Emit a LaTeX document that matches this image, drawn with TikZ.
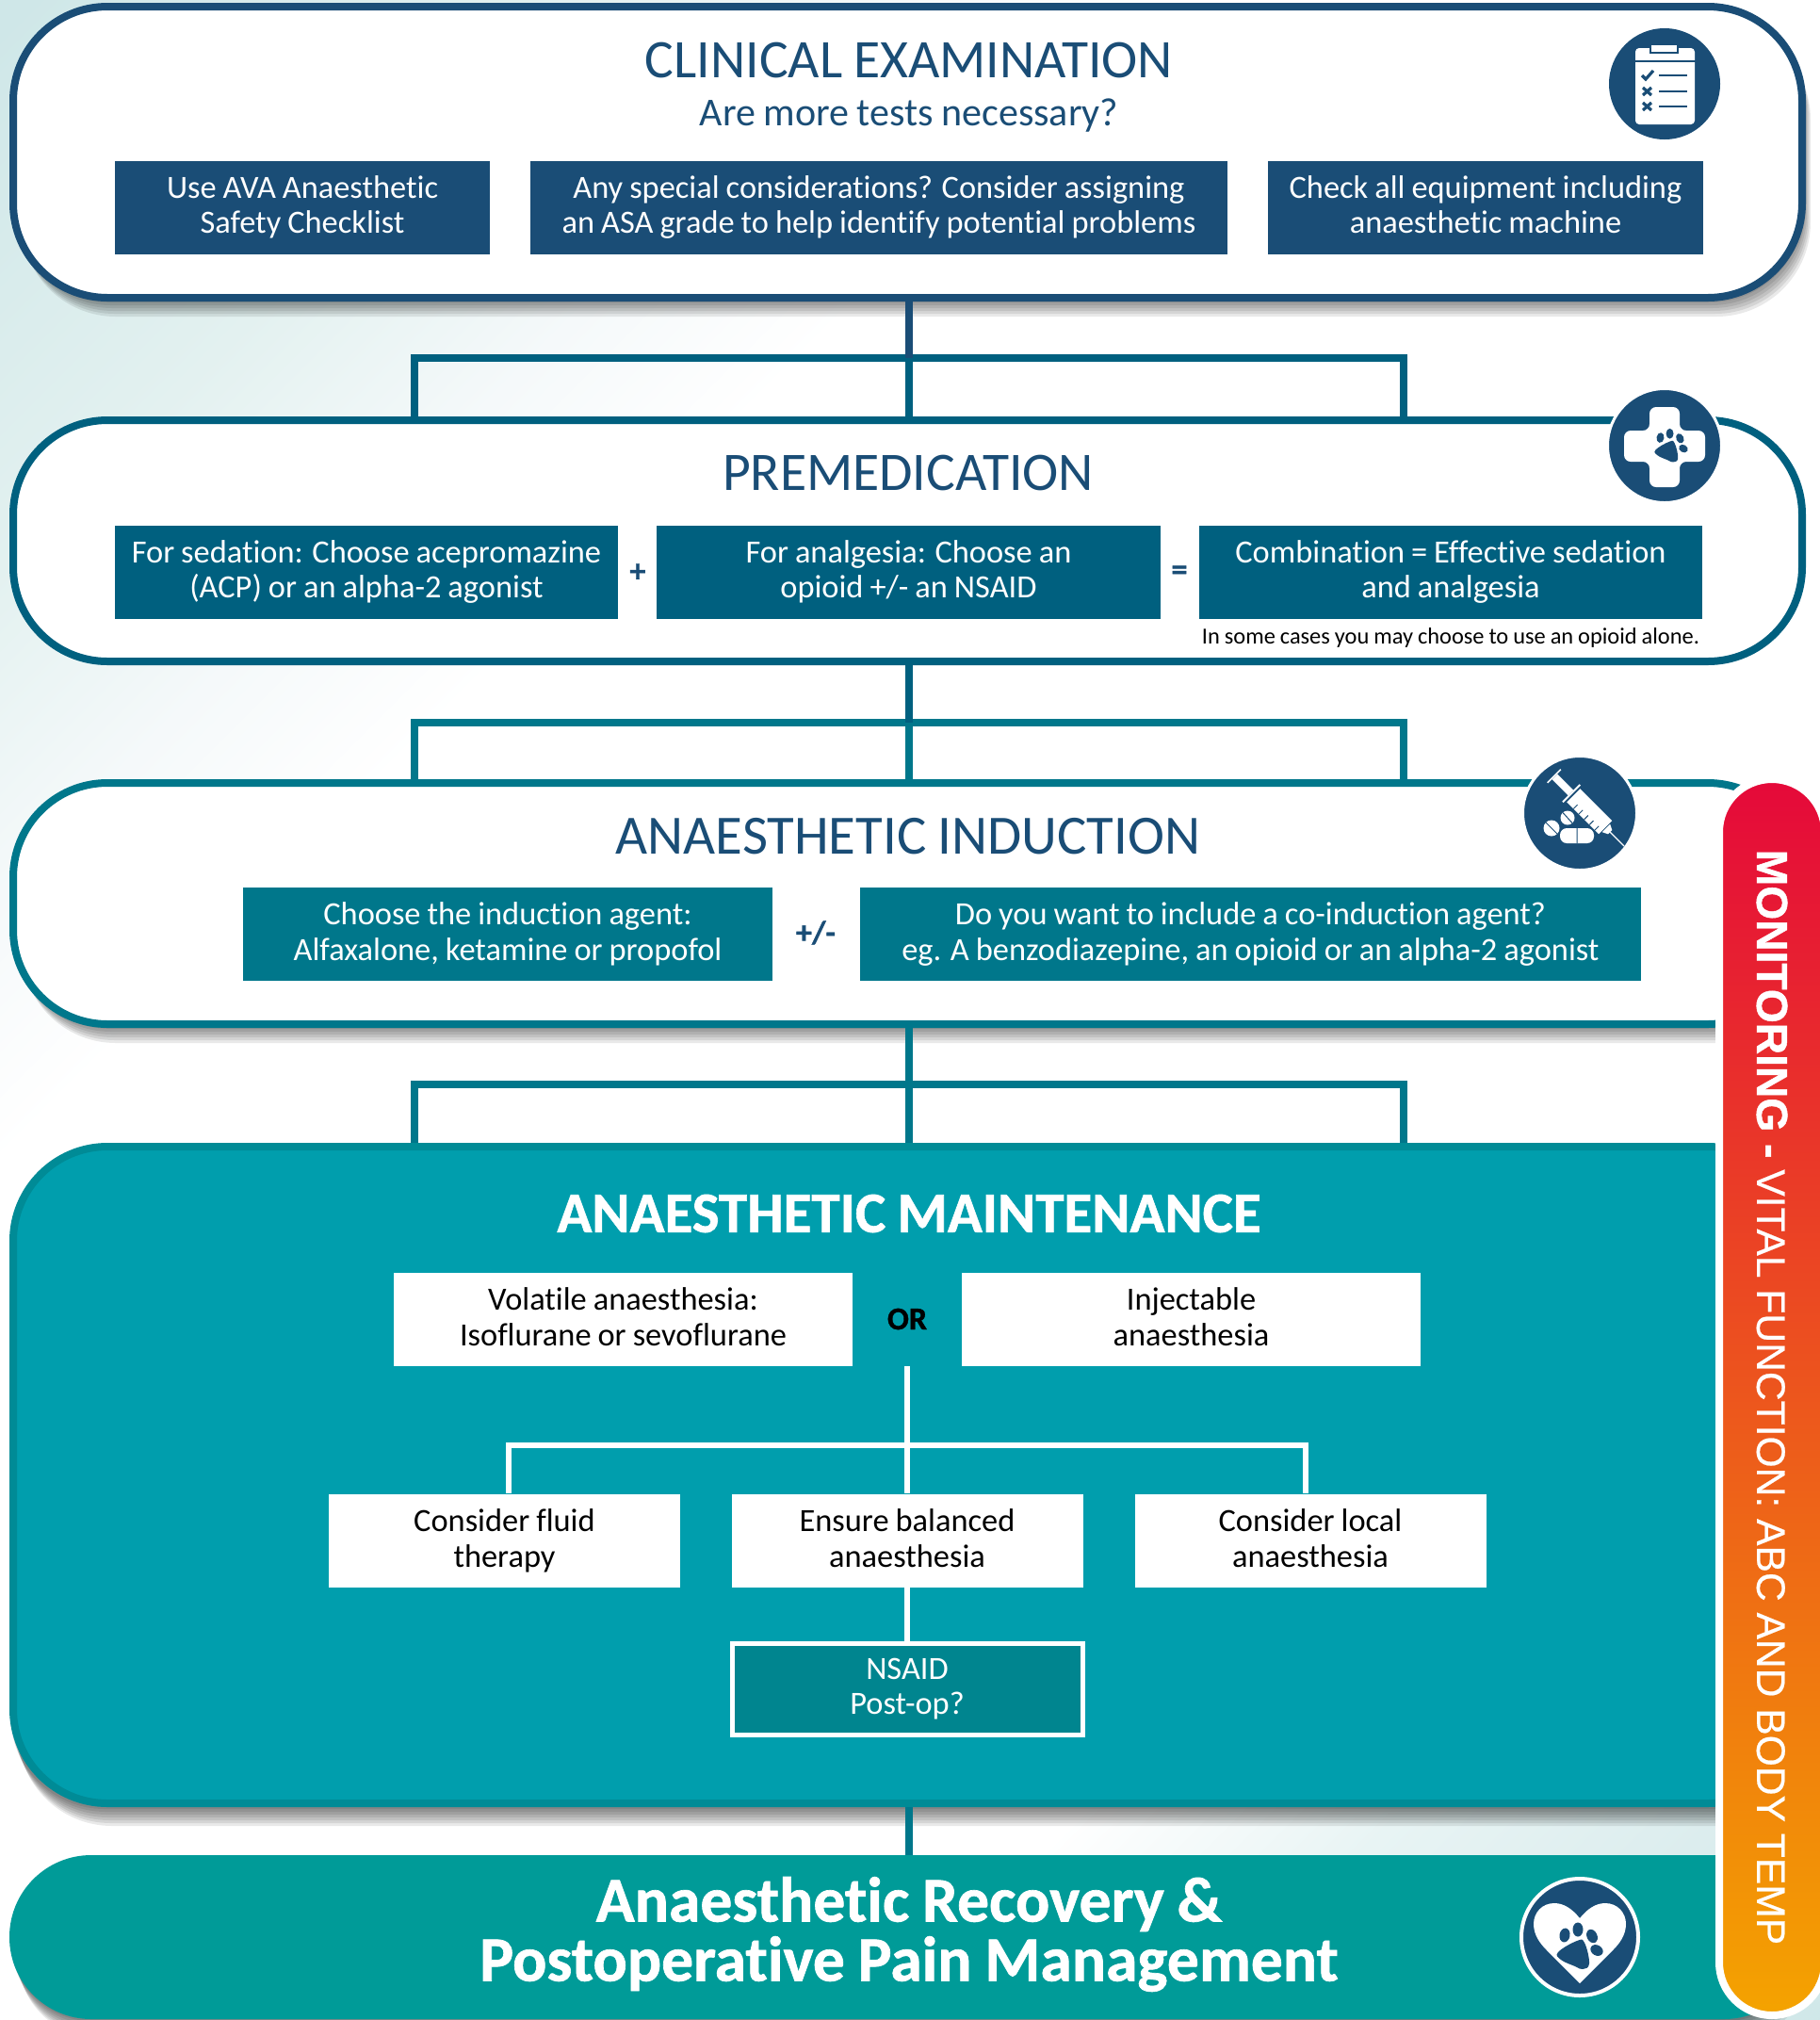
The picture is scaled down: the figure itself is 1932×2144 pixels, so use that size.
\documentclass[tikz,border=0pt]{standalone}
\usepackage{fontspec}
\setmainfont{Carlito}[Ligatures=NoCommon,WordSpace=0.9,BoldFeatures={FakeBold=1}]
\newfontfamily\barfont{Liberation Sans}[FakeBold=0.5,BoldFeatures={FakeBold=1}]
\usepackage{tikz}
\usetikzlibrary{positioning,calc,shapes.geometric}

\definecolor{navy}{HTML}{1A4D76}
\definecolor{petrol}{HTML}{00607F}
\definecolor{sea}{HTML}{00778B}
\definecolor{tealfill}{HTML}{009EAD}
\definecolor{tealedge}{HTML}{008B96}
\definecolor{recov}{HTML}{009B98}
\definecolor{nsaidfill}{HTML}{00858F}
\definecolor{bgA}{HTML}{CFE7E8}
\definecolor{bgB}{HTML}{E3F1F0}
\definecolor{bgC}{HTML}{F5F9FA}
\definecolor{bgD}{HTML}{E8F4F4}
\definecolor{bgE}{HTML}{DCEDEE}
\definecolor{barA}{HTML}{E5093A}
\definecolor{barB}{HTML}{EB6A2A}
\definecolor{barC}{HTML}{F4A300}

\pgfdeclarehorizontalshading{bgdiag}{100bp}{color(0bp)=(bgA); color(15bp)=(bgA); color(25bp)=(bgB);
  color(31bp)=(bgC); color(36bp)=(white); color(68bp)=(white); color(74bp)=(bgD); color(80bp)=(bgE);
  color(86bp)=(bgA); color(100bp)=(bgA)}

\newcommand{\cardshadow}[5]{%
  \foreach \d in {2,5,...,20}
    \fill[black,opacity=.085,rounded corners=#5]
      ({#1+\d*.45},{#2+\d}) rectangle ({#3+\d*.45},{#4+\d});
}

\tikzset{
  card/.style={draw=#1,line width=4pt,fill=white,rounded corners=50pt,minimum width=949.5pt,inner sep=0pt},
  stepbox/.style={fill=#1,text=white,align=center,inner sep=0pt,minimum height=49.5pt,
    font=\fontsize{17.2}{18.6}\selectfont,
    execute at begin node={\rule{0pt}{15.6pt}},execute at end node={\rule[-3pt]{0pt}{3pt}}},
  whitebox/.style={fill=white,text=black,align=center,inner sep=0pt,minimum height=49.5pt,
    font=\fontsize{17.2}{19}\selectfont,
    execute at begin node={\rule{0pt}{16pt}},execute at end node={\rule[-2.2pt]{0pt}{2.2pt}}},
  title/.style={text=navy,inner sep=0pt,font=\fontsize{28.8}{32}\selectfont},
  sign/.style={text=navy,inner sep=0pt,font=\fontsize{17}{18}\bfseries\selectfont},
  link/.style={line width=4pt,draw=#1},
  whitelink/.style={line width=3pt,draw=white},
  badge/.style={circle,fill=navy,draw=white,line width=1.5pt,minimum size=60.5pt,inner sep=0pt},
  paw/.pic={
    \path[pic actions] plot[smooth cycle,tension=.7] coordinates {(-23,16) (-3,4) (5,6) (10,28) (3,34) (-5,31) (-20,24)};
    \path[pic actions] (-16,-2) ellipse [x radius=5.5,y radius=7.5,rotate=-10];
    \path[pic actions] (-2,-8) ellipse [x radius=5.5,y radius=7.5];
    \path[pic actions] (13,-1) ellipse [x radius=5.5,y radius=7.5,rotate=25];
    \path[pic actions] (18,14) ellipse [x radius=5.5,y radius=7,rotate=60];
  }
}

\begin{document}
\begin{tikzpicture}[x=.5pt,y=-.5pt]
    \useasboundingbox (0,0) rectangle (1932,2144);
    \shade[shading=bgdiag,shading angle=-45] (0,0) rectangle (1932,2144);

    % clinical examination
    \cardshadow{14}{7}{1913}{316}{50pt}
    \node[card=navy,minimum height=154.5pt] (clinical) at (963.5,161.5) {};
    \node[title] (clinicalT) at (965,64) {CLINICAL EXAMINATION};
    \node[text=navy,inner sep=0pt,font=\fontsize{21}{23}\selectfont] (clinicalQ) at (965,123) {Are more tests necessary?};
    \node[stepbox=navy,minimum width=199pt] (ava) at (321,220) {Use AVA Anaesthetic\\Safety Checklist};
    \node[stepbox=navy,minimum width=370pt] (asa) at (933,220) {Any special considerations? Consider assigning\\an ASA grade to help identify potential problems};
    \node[stepbox=navy,minimum width=231pt] (equip) at (1577,220) {Check all equipment including\\anaesthetic machine};

    % premedication
    \node[card=petrol,minimum height=128pt] (premed) at (963.5,574) {};
    \node[title] (premedT) at (964,502) {PREMEDICATION};
    \node[stepbox=petrol,minimum width=267pt] (sedation) at (389,607) {For sedation: Choose acepromazine\\(ACP) or an alpha-2 agonist};
    \node[sign] (plusA) at (677,608) {+};
    \node[stepbox=petrol,minimum width=267.5pt] (analgesia) at (964.5,607) {For analgesia: Choose an\\opioid +/- an NSAID};
    \node[sign] (equals) at (1252,608) {=};
    \node[stepbox=petrol,minimum width=267pt] (combo) at (1540,607) {Combination = Effective sedation\\and analgesia};
    \node[inner sep=0pt,font=\fontsize{12.2}{14}\selectfont] (opioidnote) at (1540,677) {In some cases you may choose to use an opioid alone.};

    % anaesthetic induction
    \cardshadow{14}{831}{1913}{1087}{50pt}
    \node[card=sea,minimum height=128pt] (induction) at (963.5,959) {};
    \node[title,font=\fontsize{29.4}{32}\selectfont] (inductionT) at (964,888) {ANAESTHETIC INDUCTION};
    \node[stepbox=sea,minimum width=281pt] (agent) at (539,991.5) {Choose the induction agent:\\Alfaxalone, ketamine or propofol};
    \node[sign] (plusminus) at (866,990) {+/-};
    \node[stepbox=sea,minimum width=414.5pt] (coagent) at (1327.5,991.5) {Do you want to include a co-induction agent?\\eg. A benzodiazepine, an opioid or an alpha-2 agonist};

    % anaesthetic maintenance
    \cardshadow{10}{1214}{1917}{1918}{50pt}
    \node[draw=tealedge,line width=4pt,fill=tealfill,rounded corners=50pt,minimum width=949.5pt,minimum height=348.5pt,inner sep=0pt] (maint) at (963.5,1565.5) {};
    \node[text=white,inner sep=0pt,font=\fontsize{30.5}{32}\bfseries\selectfont] (maintT) at (965,1288) {ANAESTHETIC MAINTENANCE};
    \node[whitebox,minimum width=243.5pt] (volatile) at (661.5,1400) {Volatile anaesthesia:\\Isoflurane or sevoflurane};
    \node[text=black,inner sep=0pt,font=\fontsize{17}{18}\bfseries\selectfont] (orT) at (963,1400) {OR};
    \node[whitebox,minimum width=243.5pt] (inject) at (1264.5,1400) {Injectable\\anaesthesia};
    \node[whitebox,minimum width=186.5pt] (fluid) at (535.5,1635) {Consider fluid\\therapy};
    \node[whitebox,minimum width=186.5pt] (balanced) at (963,1635) {Ensure balanced\\anaesthesia};
    \node[whitebox,minimum width=186.5pt] (local) at (1391,1635) {Consider local\\anaesthesia};
    \node[draw=white,line width=2.5pt,fill=nsaidfill,text=white,align=center,inner sep=0pt,minimum width=186pt,minimum height=48.5pt,
      font=\fontsize{17.2}{18.6}\selectfont,execute at begin node={\rule{0pt}{15.6pt}},execute at end node={\rule[-3pt]{0pt}{3pt}}] (nsaid) at (963,1792.5) {NSAID\\Post-op?};

    % recovery
    \cardshadow{10}{1969}{1917}{2143}{43pt}
    \node[fill=recov,rounded corners=43.4pt,minimum width=953.5pt,minimum height=87pt,inner sep=0pt] (recovery) at (963.5,2056) {};
    \node[text=white,align=center,inner sep=0pt,font=\fontsize{33.8}{31.5}\bfseries\selectfont] (recoveryT) at (965,2053) {Anaesthetic Recovery \&\\Postoperative Pain Management};

    % connectors
    \coordinate (forkAl) at (440,380);
    \coordinate (forkAm) at (965,380);
    \coordinate (forkAr) at (1490,380);
    \coordinate (forkBl) at (440,767);
    \coordinate (forkBm) at (965,767);
    \coordinate (forkBr) at (1490,767);
    \coordinate (forkCl) at (440,1151);
    \coordinate (forkCm) at (965,1151);
    \coordinate (forkCr) at (1490,1151);
    \coordinate (forkDl) at (540,1534);
    \coordinate (forkDr) at (1386,1534);
    \draw[link=petrol] (forkAl |- premed.north) -- (forkAl) -- (forkAr) -- (forkAr |- premed.north);
    \draw[link=petrol] (forkAm) -- (forkAm |- premed.north);
    \draw[link=navy] (forkAm |- clinical.south) -- (forkAm);
    \draw[link=sea] (forkBl |- induction.north) -- (forkBl) -- (forkBr) -- (forkBr |- induction.north);
    \draw[link=sea] (forkBm) -- (forkBm |- induction.north);
    \draw[link=petrol] (forkBm |- premed.south) -- (forkBm);
    \draw[link=sea] (forkCl |- maint.north) -- (forkCl) -- (forkCr) -- (forkCr |- maint.north);
    \draw[link=sea] (forkCm |- induction.south) -- (forkCm |- maint.north);
    \draw[whitelink] (orT.center |- volatile.south) -- (balanced.north);
    \draw[whitelink] (forkDl |- fluid.north) -- (forkDl) -- (forkDr) -- (forkDr |- local.north);
    \draw[whitelink] (balanced.south) -- (nsaid.north);
    \draw[link=sea] (forkCm |- maint.south) -- (forkCm |- recovery.north);

    % icons
    \node[circle,fill=navy,minimum size=59pt,inner sep=0pt] (clipicon) at (1767,89) {};
    \begin{scope}[shift={(clipicon.center)}]
        \fill[white,rounded corners=2pt] (-31,-38) rectangle (32,43);
        \fill[navy] (-35,-25) rectangle (36,-23.5);
        \fill[white,draw=navy,line width=.8pt] (-15,-42) rectangle (14,-33);
        \foreach \ly in {-9,8,24}
            \draw[navy,line width=1.3pt] (-6,\ly) -- (24,\ly);
        \draw[navy,line width=1.6pt] (-24,-9) -- (-20,-5) -- (-12,-14);
        \foreach \ly in {8,24}
            \draw[navy,line width=1.6pt] (-23,\ly-4) -- (-14,\ly+4) (-14,\ly-4) -- (-23,\ly+4);
    \end{scope}

    \node[badge] (crossicon) at (1767,473) {};
    \begin{scope}[shift={(crossicon.center)}]
        \fill[white,rounded corners=3.5pt] (-16,-41) -- (16,-41) -- (16,-16) -- (43,-16) -- (43,17) -- (16,17) -- (16,44) -- (-16,44) -- (-16,17) -- (-43,17) -- (-43,-16) -- (-16,-16) -- cycle;
        \pic[fill=navy,scale=.72] at (7,-7) {paw};
    \end{scope}

    \node[badge] (syringeicon) at (1677,863) {};
    \begin{scope}[shift={(syringeicon.center)}]
        \begin{scope}[rotate=-45,yshift=4.25pt]
            \draw[white,line width=.8pt] (-47,-10) -- (-47,10);
            \fill[white] (-46,-4) rectangle (-22,4);
            \draw[white,line width=1pt] (-21,-13) -- (-21,13);
            \fill[white] (-18,-10) rectangle (30,10);
            \foreach \tx in {-8,0,...,24}
                \draw[navy,line width=.5pt] (\tx,10) -- (\tx,4);
            \fill[white] (31,-6) -- (37,-3) -- (37,3) -- (31,6) -- cycle;
            \draw[white,line width=.6pt] (37,0) -- (58,0);
        \end{scope}
        \fill[white] (-30,16) circle (8.5);
        \fill[white] (-13,5) circle (7.5);
        \fill[white,rounded corners=3.6pt] (-21,16) rectangle (15,32);
        \draw[navy,line width=.5pt] (-36,10) -- (-24,22) (-18,-0.5) -- (-8,10.5) (-3,16) -- (-3,32);
    \end{scope}

    \node[badge,line width=2pt,minimum size=62pt] (hearticon) at (1677,2056) {};
    \begin{scope}[shift={(hearticon.center)}]
        \fill[white] (0,-20) .. controls (-8,-30) and (-17,-36) .. (-27,-36) .. controls (-40,-36) and (-49,-26) .. (-49,-14)
            .. controls (-49,-2) and (-42,7) .. (-35,14) -- (0,49) -- (35,14)
            .. controls (42,7) and (49,-2) .. (49,-14) .. controls (49,-26) and (40,-36) .. (27,-36)
            .. controls (17,-36) and (8,-30) .. (0,-20) -- cycle;
        \pic[fill=navy] at (0,0) {paw};
    \end{scope}

    % monitoring bar
    \node[draw=white,line width=4pt,rounded corners=28pt,top color=barA,middle color=barB,bottom color=barC,
      minimum width=56pt,minimum height=656pt,inner sep=0pt] (monitor) at (1881,1483) {};
    \node[text=white,rotate=-90,inner sep=0pt,font=\barfont\fontsize{21.3}{24}\selectfont] (monitorT) at (1881,1483) {{\fontsize{23.1}{24}\selectfont\textbf{MONITORING -}} VITAL FUNCTION: ABC AND BODY TEMP};
\end{tikzpicture}
\end{document}
